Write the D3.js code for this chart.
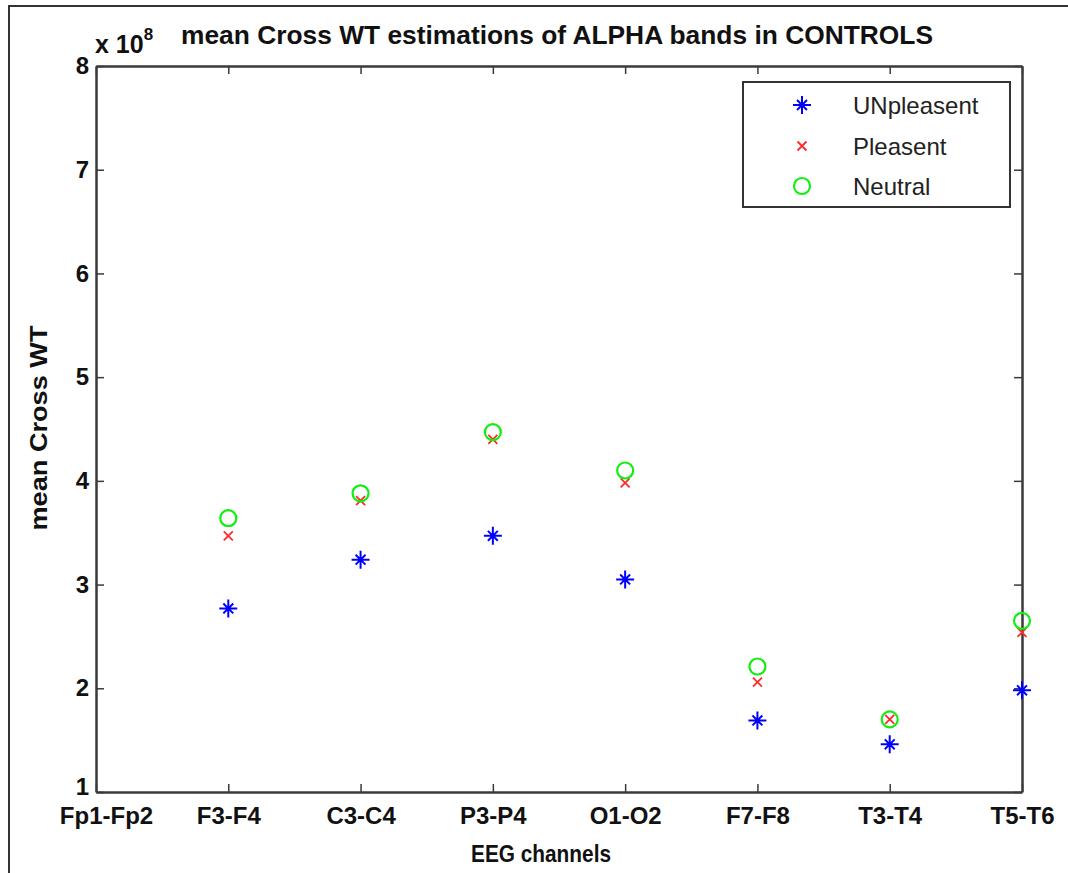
<!DOCTYPE html>
<html>
<head>
<meta charset="utf-8">
<script src="https://cdn.jsdelivr.net/npm/d3@7"></script>
<style>
  html, body { margin: 0; padding: 0; background: #fff; }
  svg { display: block; }
</style>
</head>
<body>
<script>
// ---- data (values in units of 10^8) ----
const channels = ["Fp1-Fp2", "F3-F4", "C3-C4", "P3-P4", "O1-O2", "F7-F8", "T3-T4", "T5-T6"];
const unpleasant = [null, 2.77, 3.24, 3.47, 3.05, 1.69, 1.46, 1.98];
const pleasant   = [null, 3.47, 3.81, 4.40, 3.98, 2.06, 1.70, 2.54];
const neutral    = [null, 3.64, 3.88, 4.47, 4.10, 2.21, 1.70, 2.65];
const yTicks = [1, 2, 3, 4, 5, 6, 7, 8];
const seriesNames = ["UNpleasent", "Pleasent", "Neutral"];

const W = 1068, H = 873;
const plot = { left: 96, right: 1022, top: 66, bottom: 792 };
const boldFont = "'Liberation Sans Narrow', 'Liberation Sans', Arial, sans-serif";

const svg = d3.select("body").append("svg").attr("width", W).attr("height", H);

// outer frame (top and left edges)
svg.append("path").attr("d", `M9,${H} L9,6 L${W},6`).attr("fill", "none")
  .attr("stroke", "#333").attr("stroke-width", 2);

const x = d3.scalePoint().domain(channels).range([plot.left, plot.right]);
const y = d3.scaleLinear().domain([1, 8]).range([plot.bottom, plot.top]);

const axisColor = "#3a3a3a";

// axes with inward ticks
const gB = svg.append("g").attr("transform", `translate(0,${plot.bottom})`)
  .call(d3.axisBottom(x).tickSize(-8).tickSizeOuter(0).tickPadding(21));
const gT = svg.append("g").attr("transform", `translate(0,${plot.top})`)
  .call(d3.axisTop(x).tickSize(-8).tickSizeOuter(0).tickFormat(""));
const gL = svg.append("g").attr("transform", `translate(${plot.left},0)`)
  .call(d3.axisLeft(y).tickValues(yTicks).tickSize(-8).tickSizeOuter(0).tickPadding(7).tickFormat(d3.format("d")));
const gR = svg.append("g").attr("transform", `translate(${plot.right},0)`)
  .call(d3.axisRight(y).tickValues(yTicks).tickSize(-8).tickSizeOuter(0).tickFormat(""));

[gB, gT, gL, gR].forEach(g => {
  g.select(".domain").attr("stroke", axisColor).attr("stroke-width", 2.5);
  g.selectAll(".tick line").attr("stroke", axisColor).attr("stroke-width", 1.5);
});
gB.selectAll(".tick text")
  .attr("font-family", boldFont).attr("font-weight", "bold").attr("font-size", 24)
  .attr("fill", "#111").attr("dy", "0.45em")
  .attr("dx", (d, i) => i === 0 ? 10 : 0);
gL.selectAll(".tick text")
  .attr("font-family", boldFont).attr("font-weight", "bold").attr("font-size", 24)
  .attr("fill", "#111")
  .attr("dy", d => d === 1 ? "0.1em" : "0.32em");

// exponent label
const expo = svg.append("text").attr("x", 95).attr("y", 53)
  .attr("font-family", boldFont).attr("font-weight", "bold").attr("font-size", 25).attr("fill", "#111");
expo.append("tspan").text("x 10");
expo.append("tspan").attr("dy", -13).attr("font-size", 17).text("8");

// title
svg.append("text").attr("x", 557).attr("y", 44).attr("text-anchor", "middle")
  .attr("font-family", boldFont).attr("font-weight", "bold").attr("font-size", 25)
  .attr("textLength", 752).attr("lengthAdjust", "spacingAndGlyphs")
  .attr("fill", "#111").text("mean Cross WT estimations of ALPHA bands in CONTROLS");

// axis labels
svg.append("text").attr("x", 541).attr("y", 862).attr("text-anchor", "middle")
  .attr("font-family", boldFont).attr("font-weight", "bold").attr("font-size", 24)
  .attr("textLength", 140).attr("lengthAdjust", "spacingAndGlyphs")
  .attr("fill", "#111").text("EEG channels");
svg.append("text").attr("transform", "translate(47,428) rotate(-90)").attr("text-anchor", "middle")
  .attr("font-family", boldFont).attr("font-weight", "bold").attr("font-size", 24)
  .attr("textLength", 205).attr("lengthAdjust", "spacingAndGlyphs")
  .attr("fill", "#111").text("mean Cross WT");

// marker drawers
const blue = "#0000ff", red = "#ff2a2a", green = "#11ee11";
function star(g, cx, cy, r) {
  const d = `M${cx - r},${cy} L${cx + r},${cy} M${cx},${cy - r} L${cx},${cy + r}` +
    `M${cx - r * 0.55},${cy - r * 0.55} L${cx + r * 0.55},${cy + r * 0.55}` +
    `M${cx - r * 0.55},${cy + r * 0.55} L${cx + r * 0.55},${cy - r * 0.55}`;
  g.append("path").attr("d", d).attr("stroke", blue).attr("stroke-width", 2).attr("fill", "none");
}
function cross(g, cx, cy, r) {
  g.append("path").attr("d", `M${cx - r},${cy - r} L${cx + r},${cy + r} M${cx - r},${cy + r} L${cx + r},${cy - r}`)
    .attr("stroke", red).attr("stroke-width", 1.8).attr("fill", "none");
}
function circ(g, cx, cy, r) {
  g.append("circle").attr("cx", cx).attr("cy", cy).attr("r", r)
    .attr("stroke", green).attr("stroke-width", 2.2).attr("fill", "none");
}

const marks = svg.append("g");
channels.forEach((c, i) => {
  if (unpleasant[i] != null) star(marks, x(c), y(unpleasant[i]), 9);
  if (pleasant[i] != null) cross(marks, x(c), y(pleasant[i]), 4.5);
  if (neutral[i] != null) circ(marks, x(c), y(neutral[i]), 8);
});

// legend
const lg = svg.append("g");
lg.append("rect").attr("x", 743).attr("y", 82).attr("width", 267).attr("height", 125)
  .attr("fill", "#fff").attr("stroke", "#333").attr("stroke-width", 2);
const rowsY = [105, 146, 186];
const drawers = [star, cross, circ];
const sizes = [9, 4.5, 8];
seriesNames.forEach((n, i) => {
  drawers[i](lg, 802, rowsY[i], sizes[i]);
  lg.append("text").attr("x", 853).attr("y", rowsY[i]).attr("dy", "0.36em")
    .attr("font-family", "'Liberation Sans', Arial, sans-serif").attr("font-size", 24)
    .attr("fill", "#222").text(n);
});
</script>
</body>
</html>
